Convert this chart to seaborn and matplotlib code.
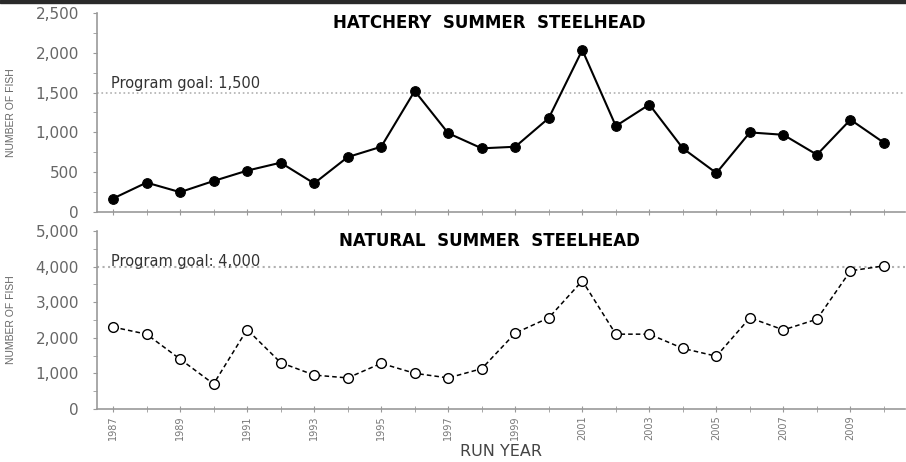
import matplotlib
matplotlib.use("Agg")
import matplotlib.pyplot as plt
from matplotlib.ticker import MultipleLocator, FuncFormatter
import seaborn as sns
import pandas as pd

years = list(range(1987, 2011))
hatchery = [170, 370, 250, 390, 520, 620, 360, 690, 820, 1520, 990, 800,
            820, 1180, 2035, 1080, 1350, 800, 490, 1000, 970, 720, 1160, 870]
natural = [2300, 2100, 1400, 700, 2230, 1300, 950, 870, 1280, 1000, 870, 1130,
           2130, 2560, 3600, 2100, 2100, 1700, 1480, 2560, 2220, 2520, 3880, 4020]
hatchery_goal = 1500
natural_goal = 4000

df = pd.DataFrame({"year": years, "hatchery": hatchery, "natural": natural})

sns.set_style("ticks")
plt.rcParams["font.family"] = ["DejaVu Sans"]

fig = plt.figure(figsize=(9.06, 4.62), dpi=100)
ax1 = fig.add_axes([0.107, 0.541, 0.892, 0.431])
ax2 = fig.add_axes([0.107, 0.115, 0.892, 0.385])

# dark strip at the very top (screenshot edge)
fig.patches.append(plt.Rectangle((0, 0.993), 1, 0.007, transform=fig.transFigure,
                                 color="#2a2a2a", zorder=10))

comma = FuncFormatter(lambda v, p: f"{int(v):,}")

sns.lineplot(data=df, x="year", y="hatchery", ax=ax1, color="black", linewidth=1.5,
             marker="o", markersize=7, markerfacecolor="black", markeredgecolor="black")
ax1.axhline(hatchery_goal, color="#b0b0b0", linestyle=":", linewidth=1.2, zorder=0)
ax1.text(1986.93, 1610, "Program goal: 1,500", fontsize=10.5, color="#333333", va="center")
ax1.set_ylim(0, 2500)
ax1.yaxis.set_major_locator(MultipleLocator(500))
ax1.yaxis.set_minor_locator(MultipleLocator(250))
ax1.text(0.486, 0.95, "HATCHERY  SUMMER  STEELHEAD", transform=ax1.transAxes,
         fontsize=12, fontweight="bold", ha="center", va="center", color="black")

sns.lineplot(data=df, x="year", y="natural", ax=ax2, color="black", linewidth=1.1,
             linestyle=(0, (3, 2)), marker="o", markersize=7,
             markerfacecolor="white", markeredgecolor="black", markeredgewidth=1.0)
ax2.axhline(natural_goal, color="#b0b0b0", linestyle=":", linewidth=1.5, zorder=0)
ax2.text(1986.93, 4150, "Program goal: 4,000", fontsize=10.5, color="#333333", va="center")
ax2.set_ylim(0, 5000)
ax2.yaxis.set_major_locator(MultipleLocator(1000))
ax2.yaxis.set_minor_locator(MultipleLocator(500))
ax2.text(0.486, 0.944, "NATURAL  SUMMER  STEELHEAD", transform=ax2.transAxes,
         fontsize=12, fontweight="bold", ha="center", va="center", color="black")

for ax in (ax1, ax2):
    ax.set_xlim(1986.52, 2010.63)
    ax.xaxis.set_minor_locator(MultipleLocator(1))
    ax.set_xticks(range(1987, 2011, 2))
    ax.yaxis.set_major_formatter(comma)
    for s in ("top", "right"):
        ax.spines[s].set_visible(False)
    for s in ("left", "bottom"):
        ax.spines[s].set_color("#999999")
        ax.spines[s].set_linewidth(1.2)
    ax.tick_params(axis="y", which="both", direction="out", length=3, color="#999999",
                   labelsize=11, labelcolor="#666666", pad=10)
    ax.tick_params(axis="x", which="both", direction="inout", length=5, color="#999999")
    ax.set_ylabel("NUMBER OF FISH", fontsize=7.5, color="#666666",
                  family=["Liberation Sans Narrow", "Liberation Sans", "DejaVu Sans"])
    ax.yaxis.set_label_coords(-0.1, 0.5)
    ax.set_xlabel("")

ax1.tick_params(axis="x", labelbottom=False)
ax2.set_xticklabels([str(y) for y in range(1987, 2011, 2)], rotation=90, fontsize=7,
                    color="#777777")
ax2.tick_params(axis="x", pad=2)
fig.text(0.553, 0.006, "RUN YEAR", ha="center", va="bottom", fontsize=11.5,
         color="#444444")

fig.savefig("out.png", dpi=100)
